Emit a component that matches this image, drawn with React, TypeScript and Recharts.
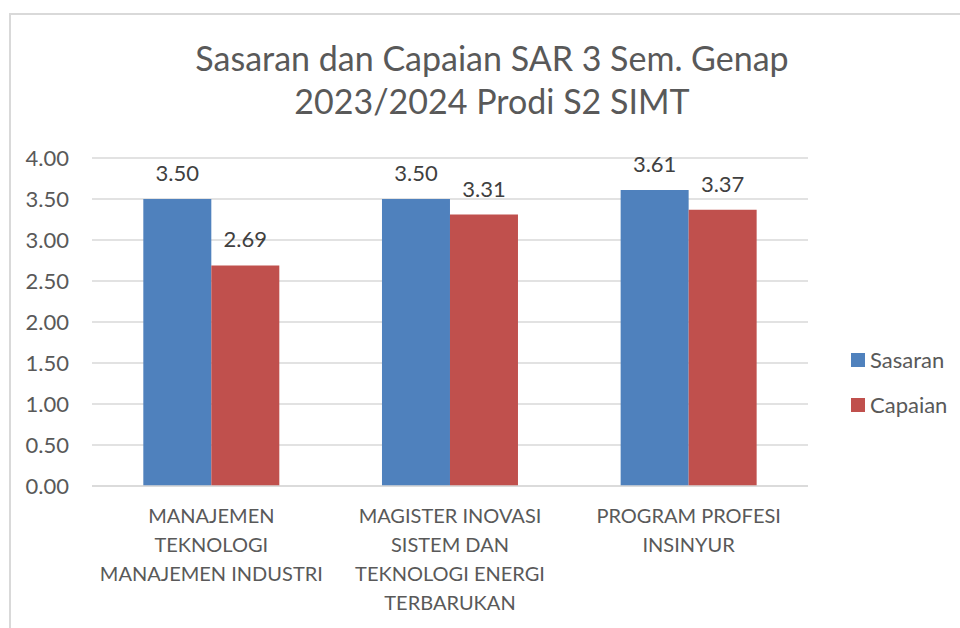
import React from 'react';
import { BarChart, Bar, XAxis, YAxis, CartesianGrid, Legend, LabelList } from 'recharts';

const FONT = 'Lato, "Open Sans", sans-serif';

const titleLines = ['Sasaran dan Capaian SAR 3 Sem. Genap', '2023/2024 Prodi S2 SIMT'];
const categories = [
  'MANAJEMEN\nTEKNOLOGI\nMANAJEMEN INDUSTRI',
  'MAGISTER INOVASI\nSISTEM DAN\nTEKNOLOGI ENERGI\nTERBARUKAN',
  'PROGRAM PROFESI\nINSINYUR',
];
const seriesNames = ['Sasaran', 'Capaian'];
const sasaran = [3.5, 3.5, 3.61];
const capaian = [2.69, 3.31, 3.37];
const yTicks = [0, 0.5, 1, 1.5, 2, 2.5, 3, 3.5, 4];

const data = categories.map((name, i) => ({ name, Sasaran: sasaran[i], Capaian: capaian[i] }));

function CategoryTick({ x, y, payload }: any) {
  const lines = String(payload.value).split('\n');
  return (
    <text x={x} y={y + 37} textAnchor="middle" fill="#595959" fontSize={20} fontFamily={FONT}>
      {lines.map((l, i) => (
        <tspan key={i} x={x} dy={i === 0 ? 0 : 29}>
          {l}
        </tspan>
      ))}
    </text>
  );
}

function renderLegend(props: any) {
  const items = [...(props.payload || [])].sort(
    (a: any, b: any) => seriesNames.indexOf(a.value) - seriesNames.indexOf(b.value)
  );
  return (
    <div style={{ fontFamily: FONT, fontSize: 22, color: '#595959' }}>
      {items.map((entry: any) => (
        <div key={entry.value} style={{ display: 'flex', alignItems: 'center', height: 45 }}>
          <span style={{ width: 14, height: 14, background: entry.color, marginRight: 5, display: 'inline-block' }} />
          <span>{entry.value}</span>
        </div>
      ))}
    </div>
  );
}

export default function App() {
  return (
    <div style={{ position: 'absolute', left: 0, top: 0, width: 960, height: 628, background: '#fff', overflow: 'hidden' }}>
      <div
        style={{
          position: 'absolute',
          left: 9,
          top: 13,
          width: 980,
          height: 640,
          border: '2px solid #D9D9D9',
          boxSizing: 'border-box',
        }}
      />
      <svg width={960} height={628} style={{ position: 'absolute', left: 0, top: 0, pointerEvents: 'none' }}>
        {titleLines.map((t, i) => (
          <text key={i} x={492} y={71 + i * 43} textAnchor="middle" fill="#595959" fontSize={34} fontFamily={FONT}>
            {t}
          </text>
        ))}
      </svg>
      <BarChart
        width={960}
        height={628}
        data={data}
        margin={{ top: 158, right: 152, bottom: 12, left: 10 }}
        barCategoryGap="21.5%"
        barGap={0}
        style={{ position: 'absolute', left: 0, top: 0 }}
      >
        <CartesianGrid vertical={false} stroke="#D9D9D9" strokeWidth={1.3} />
        <XAxis
          dataKey="name"
          interval={0}
          height={130}
          tickLine={false}
          tickSize={0}
          tickMargin={0}
          axisLine={{ stroke: '#D9D9D9', strokeWidth: 1.3 }}
          tick={<CategoryTick />}
        />
        <YAxis
          width={82}
          domain={[0, 4]}
          ticks={yTicks}
          interval={0}
          axisLine={false}
          tickLine={false}
          tickSize={0}
          tickMargin={23}
          tickFormatter={(v: number) => v.toFixed(2)}
          tick={{ fill: '#595959', fontSize: 22, fontFamily: FONT }}
        />
        <Legend
          layout="horizontal"
          verticalAlign="middle"
          align="center"
          content={renderLegend}
          wrapperStyle={{ left: 851, top: 337, width: 110 }}
        />
        <Bar dataKey="Sasaran" fill="#4F81BD" isAnimationActive={false}>
          <LabelList
            dataKey="Sasaran"
            position="top"
            offset={18}
            formatter={(v: any) => Number(v).toFixed(2)}
            style={{ fill: '#404040', fontSize: 22, fontFamily: FONT }}
          />
        </Bar>
        <Bar dataKey="Capaian" fill="#C0504D" isAnimationActive={false}>
          <LabelList
            dataKey="Capaian"
            position="top"
            offset={18}
            formatter={(v: any) => Number(v).toFixed(2)}
            style={{ fill: '#404040', fontSize: 22, fontFamily: FONT }}
          />
        </Bar>
      </BarChart>
    </div>
  );
}
